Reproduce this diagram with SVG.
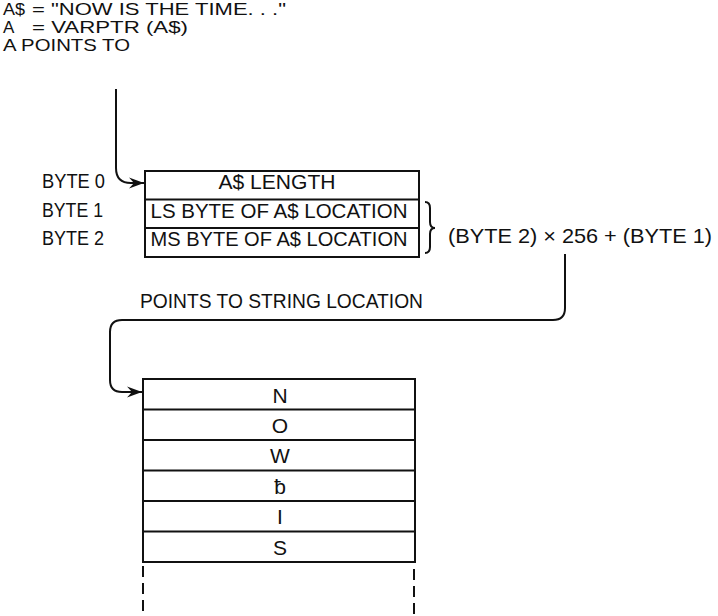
<svg xmlns="http://www.w3.org/2000/svg" width="718" height="616" viewBox="0 0 718 616">
<style>
text{font-family:"Liberation Sans Narrow","Liberation Sans",Arial,sans-serif;fill:#111;}
.t{font-size:17px;}
.b{font-size:21px;}
.c{text-anchor:middle;}
.box{fill:#fff;stroke:#111;stroke-width:2;}
.ln{stroke:#111;stroke-width:2;fill:none;}
.conn{stroke:#111;stroke-width:2;fill:none;}
.dash{stroke:#111;stroke-width:2;stroke-dasharray:11 6;fill:none;}
</style>
<defs>
<marker id="ah" markerUnits="userSpaceOnUse" markerWidth="18" markerHeight="12" viewBox="-16 -6 18 12" refX="0" refY="0" orient="auto">
<path d="M0,0 L-15,-5.5 L-10,0 L-15,5.5 Z" fill="#111"/>
</marker>
</defs>
<rect width="718" height="616" fill="#fff"/>
<g id="header">
<text class="t" x="3" y="15" textLength="22" lengthAdjust="spacingAndGlyphs">A$</text>
<text class="t" x="32" y="15" textLength="254" lengthAdjust="spacingAndGlyphs">= "NOW IS THE TIME. . ."</text>
<text class="t" x="3" y="33">A</text>
<text class="t" x="32" y="33" textLength="156" lengthAdjust="spacingAndGlyphs">= VARPTR (A$)</text>
<text class="t" x="3" y="51" textLength="127" lengthAdjust="spacingAndGlyphs">A POINTS TO</text>
</g>
<g id="byte-labels">
<text class="b" x="42" y="188" textLength="63" lengthAdjust="spacingAndGlyphs">BYTE 0</text>
<text class="b" x="42" y="217" textLength="61" lengthAdjust="spacingAndGlyphs">BYTE 1</text>
<text class="b" x="42" y="245" textLength="62" lengthAdjust="spacingAndGlyphs">BYTE 2</text>
</g>
<g id="descriptor">
<rect class="box" x="145" y="171" width="274" height="86"/>
<line class="ln" x1="145" y1="199.5" x2="419" y2="199.5"/>
<line class="ln" x1="145" y1="228" x2="419" y2="228"/>
<text class="b c" x="277" y="189" textLength="117" lengthAdjust="spacingAndGlyphs">A$ LENGTH</text>
<text class="b c" x="279" y="218" textLength="257" lengthAdjust="spacingAndGlyphs">LS BYTE OF A$ LOCATION</text>
<text class="b c" x="279" y="246" textLength="257" lengthAdjust="spacingAndGlyphs">MS BYTE OF A$ LOCATION</text>
</g>
<g id="formula">
<path class="ln" stroke-width="1.6" d="M425,202 Q430,202 430,208 V222 Q430,228 435,228 Q430,228 430,234 V247 Q430,253 425,253"/>
<text class="b" x="448" y="243" textLength="264" lengthAdjust="spacingAndGlyphs">(BYTE 2) × 256 + (BYTE 1)</text>
</g>
<g id="pointer-label">
<text class="b" x="140" y="308" textLength="283" lengthAdjust="spacingAndGlyphs">POINTS TO STRING LOCATION</text>
</g>
<g id="string">
<rect class="box" x="143" y="379" width="272" height="183"/>
<line class="ln" x1="143" y1="409.5" x2="415" y2="409.5"/>
<line class="ln" x1="143" y1="440" x2="415" y2="440"/>
<line class="ln" x1="143" y1="470.5" x2="415" y2="470.5"/>
<line class="ln" x1="143" y1="501" x2="415" y2="501"/>
<line class="ln" x1="143" y1="531.5" x2="415" y2="531.5"/>
<text class="b c" x="280" y="403">N</text>
<text class="b c" x="280" y="433">O</text>
<text class="b c" x="280" y="463">W</text>
<text class="b c" x="280" y="494">ƀ</text>
<text class="b c" x="280" y="524">I</text>
<text class="b c" x="280" y="555">S</text>
<line class="dash" x1="143" y1="566" x2="143" y2="616"/>
<line class="dash" x1="414" y1="569" x2="414" y2="616"/>
</g>
<g id="connectors">
<path class="conn" marker-end="url(#ah)" d="M116,89 V168 Q116,183 131,183 H144"/>
<path class="conn" marker-end="url(#ah)" d="M565,254 V308 Q565,320 553,320 H122 Q110,320 110,332 V380 Q110,392 122,392 H142"/>
</g>
</svg>
